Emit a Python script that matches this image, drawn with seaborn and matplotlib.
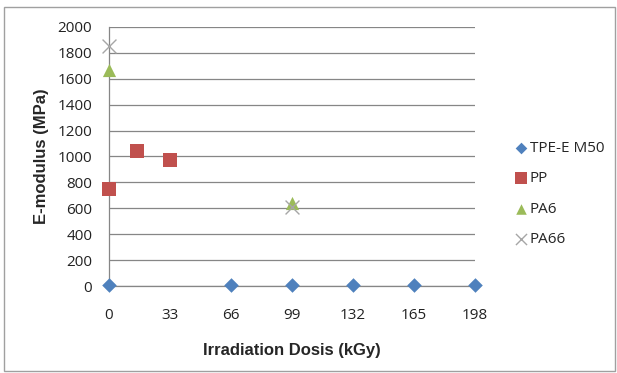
import matplotlib
matplotlib.use("Agg")
import matplotlib.pyplot as plt
import seaborn as sns
import pandas as pd
from matplotlib.patches import Rectangle

sns.set_theme(style="white")
plt.rcParams['font.family'] = ['Open Sans', 'DejaVu Sans']

tpe_x = [0, 66, 99, 132, 165, 198]
tpe_y = [8, 8, 8, 8, 8, 8]
pp_x = [0, 15, 33]
pp_y = [750, 1040, 975]
pa6_x = [0, 99]
pa6_y = [1670, 640]
pa66_x = [0, 99]
pa66_y = [1850, 610]

x_ticks = [0, 33, 66, 99, 132, 165, 198]
y_ticks = [0, 200, 400, 600, 800, 1000, 1200, 1400, 1600, 1800, 2000]

series = [
    ("TPE-E M50", tpe_x, tpe_y, "D", "#4F81BD", 55),
    ("PP", pp_x, pp_y, "s", "#C0504D", 100),
    ("PA6", pa6_x, pa6_y, "^", "#9BBB59", 90),
    ("PA66", pa66_x, pa66_y, "x", "#A6A6A6", 100),
]

fig = plt.figure(figsize=(6.17, 3.73), dpi=100)
ax = fig.add_axes([109 / 617, 0.233, 366 / 617, 0.695])

for name, xs, ys, m, c, s in series:
    df = pd.DataFrame({"x": xs, "y": ys})
    kw = dict(linewidth=0) if m != "x" else dict(linewidth=1.0)
    sns.scatterplot(data=df, x="x", y="y", marker=m, color=c, s=s, ax=ax,
                    label=name, clip_on=False, zorder=3, edgecolor=c if m != "x" else None, **kw)

ax.set_xlim(0, 198)
ax.set_ylim(0, 2000)
ax.set_xticks(x_ticks)
ax.set_yticks(y_ticks)
ax.grid(False)
ax.grid(True, axis="y", color="#868686", linewidth=0.9)
for gl in ax.get_xgridlines():
    gl.set_visible(False)
ax.patch.set_edgecolor("none")
for sp in ["top", "right"]:
    ax.spines[sp].set_visible(False)
ax.spines["left"].set_color("#868686")
ax.spines["bottom"].set_color("#868686")
ax.spines["left"].set_linewidth(0.9)
ax.spines["bottom"].set_linewidth(0.9)
ax.tick_params(axis="both", length=0, labelsize=11, colors="#222222")
ax.tick_params(axis="x", pad=16)
ax.tick_params(axis="y", pad=12)
ax.set_xlabel("Irradiation Dosis (kGy)", fontsize=12, fontweight="bold",
              family=["Liberation Sans", "DejaVu Sans"], labelpad=14)
ax.set_ylabel("E-modulus (MPa)", fontsize=12, fontweight="bold",
              family=["Liberation Sans", "DejaVu Sans"], labelpad=6)

leg = ax.legend(loc="center left", bbox_to_anchor=(1.066, 0.355), frameon=False,
                fontsize=11, handletextpad=0.1, labelspacing=1.0, markerscale=0.8,
                handlelength=1.0)

fig.patches.append(Rectangle((4 / 617, 2 / 373), 611 / 617, 364 / 373,
                             transform=fig.transFigure, fill=False,
                             edgecolor="#A0A0A0", linewidth=1.0))

fig.savefig("out.png", dpi=100)
